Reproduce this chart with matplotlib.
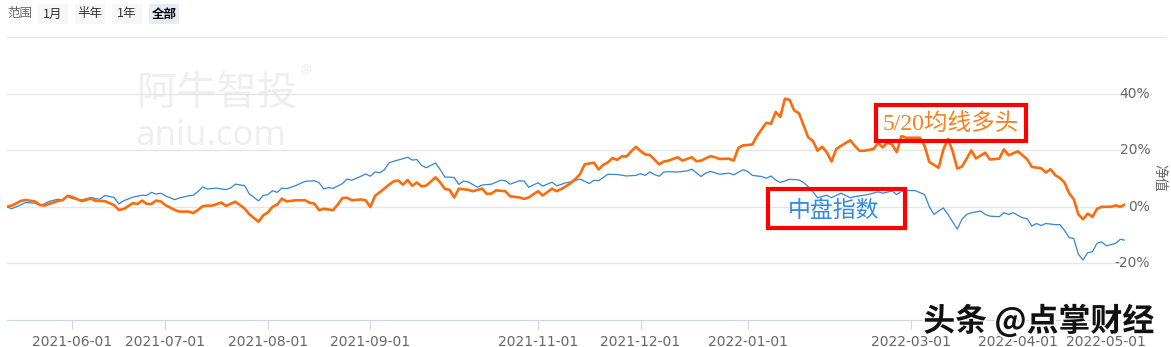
import matplotlib.pyplot as plt
import matplotlib.patches as mpatches
import matplotlib.patheffects as pe

plt.rcParams['font.family'] = ['Noto Sans CJK SC', 'DejaVu Sans']

# trading-day index / return in %
blue_x = [0, 1, 3, 4, 6, 7, 8, 9, 11, 12, 13, 14, 16, 18, 19, 20, 21, 23, 24, 25,
          27, 29, 30, 31, 32, 33, 34, 36, 37, 39, 40, 41, 42, 43, 45, 46, 47, 48, 49, 51,
          52, 54, 55, 56, 57, 58, 59, 60, 62, 64, 66, 67, 68, 69, 70, 72, 73, 74, 76, 77,
          78, 79, 80, 81, 82, 83, 85, 86, 87, 88, 89, 90, 92, 93, 94, 95, 96, 97, 98, 99,
          101, 102, 104, 106, 107, 108, 110, 111, 112, 114, 115, 117, 118, 120, 121, 123, 125, 126, 127, 129,
          131, 133, 135, 136, 137, 138, 139, 140, 141, 142, 144, 146, 147, 149, 150, 151, 153, 155, 156, 158,
          159, 160, 162, 163, 164, 165, 166, 168, 170, 171, 172, 173, 174, 176, 177, 179, 181, 182, 184, 185,
          187, 188, 190, 191, 192, 193, 195, 197, 198, 199, 200, 201, 202, 204, 205, 206, 207, 209, 210, 211,
          213, 214, 215, 216, 218, 219, 220, 221, 222, 223, 225, 226, 227, 228, 229, 230, 231, 232, 233, 234,
          235, 236, 238, 239, 240]
blue_y = [0.0, -0.7, 0.7, 1.5, 1.3, 0.6, 1.0, 1.9, 2.7, 2.2, 3.7, 2.9, 2.4, 3.3, 2.9, 2.7, 4.0, 3.3, 1.0, 2.1,
          3.4, 4.1, 4.0, 5.1, 4.5, 4.8, 3.9, 2.5, 3.1, 3.9, 4.1, 5.4, 7.0, 6.3, 6.6, 6.3, 6.1, 6.6, 8.0, 7.5,
          4.6, 2.1, 4.0, 4.3, 5.7, 5.1, 6.6, 6.4, 7.5, 9.0, 9.2, 8.5, 6.3, 6.8, 6.5, 8.2, 9.8, 9.4, 10.8, 11.6,
          10.8, 12.3, 12.0, 13.1, 15.5, 16.1, 17.0, 17.5, 16.5, 16.7, 14.6, 13.8, 15.5, 13.1, 10.5, 10.5, 10.3, 7.9, 9.1, 8.8,
          6.9, 7.7, 8.0, 9.4, 9.2, 8.0, 9.2, 9.1, 6.9, 8.5, 7.3, 8.7, 7.4, 8.5, 8.8, 9.8, 8.2, 9.4, 9.2, 11.5,
          11.4, 10.9, 11.1, 11.7, 11.1, 12.3, 11.4, 10.8, 12.3, 12.4, 12.3, 12.7, 13.3, 10.7, 11.9, 12.5, 11.5, 11.9, 11.3, 13.1,
          12.5, 11.1, 10.7, 10.1, 10.9, 9.5, 8.6, 9.7, 9.5, 8.6, 7.1, 5.3, 3.2, 4.1, 3.2, 4.8, 3.2, 3.6, 4.1, 4.4,
          5.3, 4.8, 5.6, 4.3, 5.5, 5.8, 5.7, 4.3, 0.0, -2.7, -1.5, -0.4, -2.7, -7.9, -4.4, -2.7, -2.1, -1.5, -2.7, -3.3,
          -3.5, -2.1, -2.7, -2.1, -3.9, -4.2, -6.8, -5.9, -6.6, -5.9, -6.3, -6.3, -8.3, -10.9, -11.2, -16.8, -18.8, -16.2, -15.9, -12.9,
          -12.4, -13.8, -12.9, -11.5, -11.8]

orange_x = [0, 1, 3, 4, 6, 7, 8, 9, 11, 12, 13, 14, 16, 18, 19, 21, 23, 24, 25, 26,
            27, 28, 29, 30, 31, 32, 33, 34, 36, 37, 39, 40, 41, 42, 43, 44, 46, 47, 49, 51,
            52, 54, 55, 56, 57, 58, 59, 60, 62, 64, 65, 66, 67, 68, 70, 71, 72, 73, 74, 76,
            77, 78, 79, 80, 82, 83, 84, 85, 86, 87, 88, 89, 90, 92, 93, 94, 95, 96, 97, 99,
            100, 102, 103, 104, 105, 107, 108, 110, 111, 112, 114, 115, 117, 118, 119, 121, 122, 123, 124, 126,
            127, 128, 129, 130, 131, 132, 133, 134, 135, 136, 137, 138, 140, 141, 142, 144, 145, 147, 148, 149,
            151, 152, 153, 155, 156, 157, 158, 160, 161, 163, 164, 165, 166, 167, 168, 169, 170, 172, 173, 174,
            175, 176, 177, 178, 179, 181, 182, 183, 184, 186, 187, 188, 189, 190, 191, 192, 193, 194, 196, 197,
            198, 200, 201, 202, 203, 204, 205, 206, 207, 208, 210, 211, 213, 214, 215, 217, 219, 220, 222, 223,
            224, 225, 226, 227, 228, 229, 230, 231, 232, 233, 234, 235, 237, 238, 239, 240]
orange_y = [0.1, 0.4, 2.1, 2.4, 1.9, 0.7, 0.4, 1.0, 2.1, 2.4, 3.9, 3.5, 2.0, 2.9, 2.1, 2.0, 0.6, -1.1, -0.8, 0.2,
            1.3, 1.0, 2.2, 1.0, 1.0, 2.2, 1.9, 0.6, -1.1, -1.7, -1.7, -2.2, -1.1, 0.2, 0.4, 0.4, 1.5, 0.3, 1.8, -0.6,
            -2.6, -5.3, -3.0, -2.0, 0.0, 0.8, 2.9, 1.9, 2.3, 2.3, 1.4, 1.1, -1.2, -0.7, -1.2, 0.8, 3.1, 3.2, 2.3, 2.6,
            2.3, -0.1, 3.9, 5.1, 7.8, 9.0, 9.3, 7.8, 9.5, 7.4, 8.6, 7.2, 7.5, 10.4, 8.6, 6.3, 6.0, 3.3, 6.4, 6.0,
            5.5, 6.4, 4.5, 4.7, 5.8, 5.5, 3.7, 3.3, 2.8, 3.3, 5.5, 4.0, 6.4, 5.5, 6.3, 8.3, 9.8, 11.5, 15.0, 15.6,
            13.2, 14.8, 15.7, 17.2, 16.6, 17.8, 17.8, 19.6, 21.2, 19.7, 18.5, 18.3, 15.0, 16.0, 16.3, 17.5, 16.3, 17.5, 16.1, 16.3,
            17.9, 17.5, 16.9, 17.0, 16.3, 20.8, 21.7, 22.0, 25.0, 29.7, 29.3, 33.5, 31.8, 38.2, 37.8, 34.0, 33.1, 24.5, 23.3, 19.8,
            21.2, 19.2, 16.0, 20.4, 21.5, 23.5, 21.5, 19.8, 19.8, 20.4, 22.5, 21.0, 22.7, 22.0, 19.3, 25.0, 24.4, 24.4, 24.4, 21.4,
            15.8, 13.8, 20.2, 24.0, 19.6, 13.5, 14.2, 17.0, 19.9, 17.1, 19.1, 16.7, 17.0, 20.3, 18.2, 19.6, 16.8, 14.1, 13.6, 12.1,
            13.3, 11.2, 10.2, 8.6, 4.8, 2.7, -2.7, -4.4, -2.4, -3.6, -0.7, 0.0, 0.0, 0.5, 0.0, 0.8]

tick_pos = [14, 34, 56, 78, 114, 136, 159, 194, 217, 236]
tick_labels = ['2021-06-01', '2021-07-01', '2021-08-01', '2021-09-01', '2021-11-01',
               '2021-12-01', '2022-01-01', '2022-03-01', '2022-04-01', '2022-05-01']
y_ticks = [-20, 0, 20, 40]
range_buttons = ['1月', '半年', '1年', '全部']

W, H = 1171, 347
fig = plt.figure(figsize=(W / 100, H / 100), dpi=100)
ax = fig.add_axes([7 / W, 27 / H, 1118 / W, 283 / H])
ax.patch.set_alpha(0)

def fx(x):
    return x / W

def fy(y):
    return 1 - y / H

# watermark
ax.text(fx(137), fy(93), '阿牛智投', transform=fig.transFigure, fontsize=29,
        color='#efefef', va='center', ha='left', zorder=0)
ax.text(fx(300), fy(75), '®', transform=fig.transFigure, fontsize=16,
        color='#efefef', va='center', ha='left', zorder=0)
ax.text(fx(135), fy(136), 'aniu.com', transform=fig.transFigure, fontsize=25,
        color='#efefef', va='center', ha='left', zorder=0, family='Noto Sans')

ax.plot(blue_x, blue_y, color='#3385d6', lw=0.9, zorder=3)
ax.plot(orange_x, orange_y, color='#fb6c0c', lw=1.9, zorder=4)

ax.set_xlim(0, 240)
ax.set_ylim(-40, 60)
ax.set_yticks([])
for v in [-20, 0, 20, 40]:
    ax.axhline(v, color='#e6e6e6', lw=1, zorder=1)
ax.axhline(60, xmax=1.036, color='#e6e6e6', lw=1, zorder=1, clip_on=False)
for v in y_ticks:
    ax.text(1.0225, v, f'{v}%', transform=ax.get_yaxis_transform(), ha='right',
            va='center', fontsize=10, color='#666666', family='DejaVu Sans')

for s in ['top', 'left', 'right']:
    ax.spines[s].set_visible(False)
ax.spines['bottom'].set_color('#ccd6eb')
ax.set_xticks(tick_pos)
ax.set_xticklabels(tick_labels, fontsize=10, color='#666666', family='DejaVu Sans')
ax.tick_params(axis='x', length=6.5, color='#ccd6eb', pad=4)

fig.text(fx(1159), fy(178), '净值', rotation=270, fontsize=10, color='#666666',
         ha='center', va='center')

# range selector
fig.text(fx(7), fy(13), '范围', fontsize=9, color='#666666', ha='left', va='center')
bx = [37, 74, 111, 148]
for i, lab in enumerate(range_buttons):
    active = lab == '全部'
    fig.add_artist(mpatches.FancyBboxPatch((fx(bx[i] + 1), fy(24)), 30 / W, 20 / H,
                                           boxstyle='round,pad=0,rounding_size=0.003',
                                           transform=fig.transFigure,
                                           fc='#e6ebf5' if active else '#f7f7f7', ec='none'))
    fig.text(fx(bx[i] + 16), fy(14), lab, fontsize=9, ha='center', va='center',
             color='#000000' if active else '#333333',
             weight='bold' if active else 'normal')

# annotation boxes
fig.add_artist(mpatches.Rectangle((fx(876), fy(141)), 150 / W, 36 / H, transform=fig.transFigure,
                                  fill=False, ec='#ff0000', lw=3, zorder=5))
fig.text(fx(951), fy(124), '5/20均线多头', fontsize=17, color='#f58220', ha='center', va='center',
         family=['Liberation Serif', 'Noto Sans CJK SC'], zorder=6)
fig.add_artist(mpatches.Rectangle((fx(768), fy(228)), 137 / W, 39 / H, transform=fig.transFigure,
                                  fill=False, ec='#ff0000', lw=3, zorder=5))
fig.text(fx(834), fy(210), '中盘指数', fontsize=16.5, color='#2f8be6', ha='center', va='center', zorder=6)

# corner watermark
fig.text(fx(1039), fy(321), '头条 @点掌财经', fontsize=23, color='#111111', ha='center', va='center',
         weight='bold', zorder=7,
         path_effects=[pe.withStroke(linewidth=3, foreground='white')])

fig.savefig('out.png', dpi=100)
